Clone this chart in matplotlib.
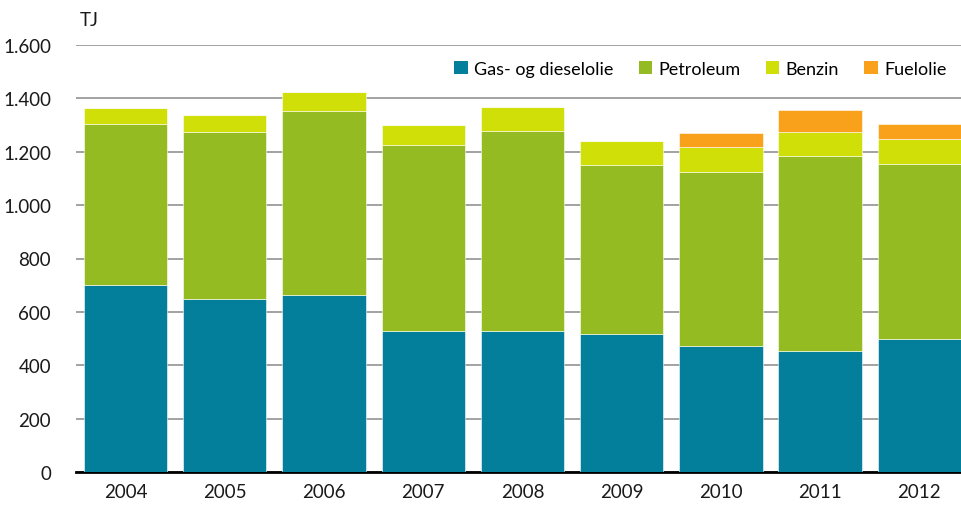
import numpy as np
import matplotlib.pyplot as plt
from matplotlib.patches import Patch

plt.rcParams['font.family'] = ['Lato', 'DejaVu Sans']

years = ['2004', '2005', '2006', '2007', '2008', '2009', '2010', '2011', '2012']
gas_diesel = [700, 648, 663, 528, 528, 517, 472, 453, 498]
petroleum = [604, 626, 690, 697, 750, 633, 652, 731, 656]
benzin = [60, 64, 71, 75, 90, 90, 94, 90, 94]
fuelolie = [0, 0, 0, 0, 0, 0, 52, 82, 56]

series = [gas_diesel, petroleum, benzin, fuelolie]
names = ['Gas- og dieselolie', 'Petroleum', 'Benzin', 'Fuelolie']
colors = ['#037f9b', '#95bb22', '#cfdf07', '#f9a11b']

fig = plt.figure(figsize=(9.61, 5.06), dpi=100)
ax = fig.add_axes([76 / 961, 33 / 506, 885 / 961, 427 / 506])

x = np.arange(len(years))
bottom = np.zeros(len(years))
for vals, c in zip(series, colors):
    vals = np.array(vals, dtype=float)
    ax.bar(x, vals, bottom=bottom, width=0.84, color=c,
           edgecolor='white', linewidth=0.4, zorder=3)
    bottom += vals

ax.set_xlim(-0.5, 8.42)
ax.set_ylim(0, 1600)
ax.set_yticks(np.arange(0, 1601, 200))
ax.set_yticklabels([f'{v:,}'.replace(',', '.') for v in range(0, 1601, 200)])
ax.set_xticks(x)
ax.set_xticklabels(years)
ax.yaxis.grid(True, color='#9b9b9b', linewidth=1.3, zorder=0)
ax.set_axisbelow(True)
for s in ['top', 'right', 'left']:
    ax.spines[s].set_visible(False)
ax.spines['bottom'].set_linewidth(2)
ax.spines['bottom'].set_color('black')
ax.tick_params(axis='both', length=0, labelsize=13.5, colors='#1a1a1a')
ax.tick_params(axis='y', pad=18)
ax.tick_params(axis='x', pad=8)

fig.text(80 / 961, 1 - 20 / 506, 'TJ', fontsize=13.5, va='center', ha='left', color='#1a1a1a')

handles = [Patch(facecolor=c, edgecolor='none') for c in colors]
ax.legend(handles, names, loc='center right', bbox_to_anchor=(0.992, 1 - 24 / 427), ncol=4,
          frameon=False, fontsize=13, handlelength=0.75, handleheight=0.75,
          handletextpad=0.35, columnspacing=1.4, borderaxespad=0)

fig.savefig('out.png', dpi=100)
